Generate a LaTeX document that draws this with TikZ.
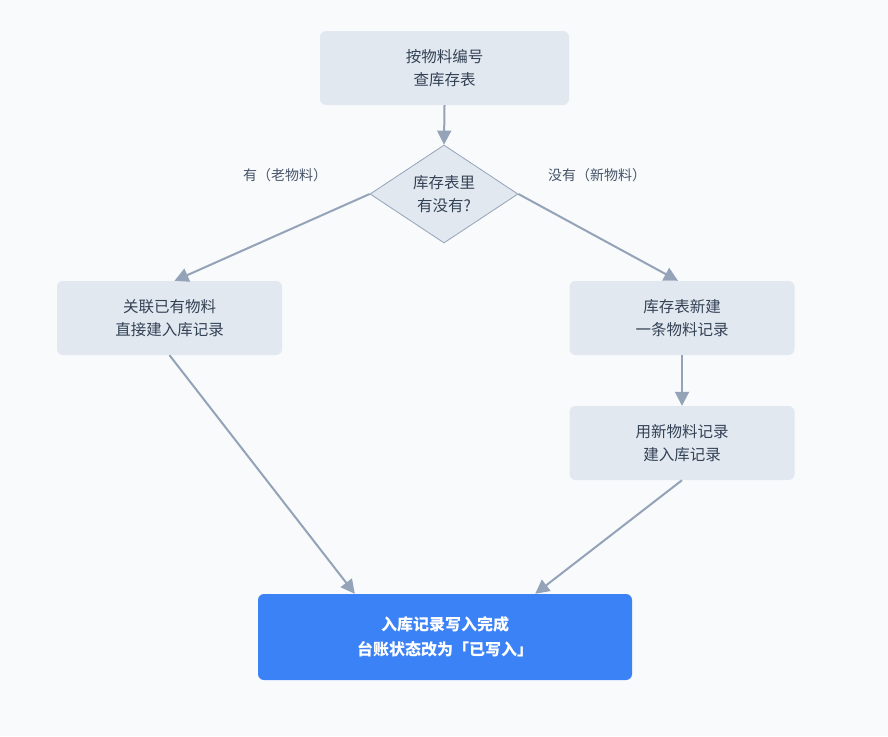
\documentclass[tikz,border=0pt]{standalone}
\usepackage{fontspec}
\setmainfont{Noto Sans CJK SC}
\usetikzlibrary{shapes.geometric,arrows.meta}
\definecolor{bgc}{HTML}{F8FAFC}
\definecolor{boxc}{HTML}{E2E8F0}
\definecolor{linec}{HTML}{94A3B8}
\definecolor{txtc}{HTML}{334155}
\definecolor{lblc}{HTML}{475569}
\definecolor{bluec}{HTML}{3B82F6}
\tikzset{
  procbox/.style={rectangle, rounded corners=6pt, fill=boxc, minimum width=225pt, minimum height=74pt, align=center, text=txtc, font=\fontsize{15.5}{23}\selectfont},
  decision/.style={diamond, fill=boxc, draw=linec, line width=0.8pt, minimum width=148pt, minimum height=98pt, aspect=1.51, inner sep=0pt, align=center, text=txtc, font=\fontsize{15.5}{23}\selectfont},
  endbox/.style={rectangle, rounded corners=6pt, fill=bluec, minimum width=374pt, minimum height=86pt, align=center, text=white, font=\fontsize{16}{25}\selectfont\bfseries},
  conn/.style={draw=linec, line width=2pt, -{Triangle[length=14pt,width=14pt]}},
  lbl/.style={text=lblc, font=\fontsize{14}{16}\selectfont}
}
\begin{document}
\begin{tikzpicture}[x=1pt,y=-1pt]
\fill[bgc] (0,0) rectangle (888,736);
\useasboundingbox (0,0) rectangle (888,736);
\node[procbox, minimum width=249pt] (top) at (444.5,68) {按物料编号\\查库存表};
\node[decision] (dec) at (444,194) {库存表里\\有没有?};
\node[procbox] (L) at (169.5,318) {关联已有物料\\直接建入库记录};
\node[procbox] (R1) at (682,318) {库存表新建\\一条物料记录};
\node[procbox] (R2) at (682,443) {用新物料记录\\建入库记录};
\node[endbox] (B) at (445,637) {入库记录写入完成\\台账状态改为「已写入」};
\node[lbl] (ly) at (285,175) {有（老物料）};
\node[lbl] (ln) at (597,175) {没有（新物料）};
\draw[conn] (top.south) -- (dec.north);
\draw[conn] (dec.west) -- ([xshift=5pt]L.north);
\draw[conn] (dec.east) -- ([xshift=-4pt]R1.north);
\draw[conn] (R1.south) -- (R2.north);
\draw[conn] (L.south) -- ([xshift=97pt]B.north west);
\draw[conn] (R2.south) -- ([xshift=-97pt]B.north east);
\end{tikzpicture}
\end{document}
